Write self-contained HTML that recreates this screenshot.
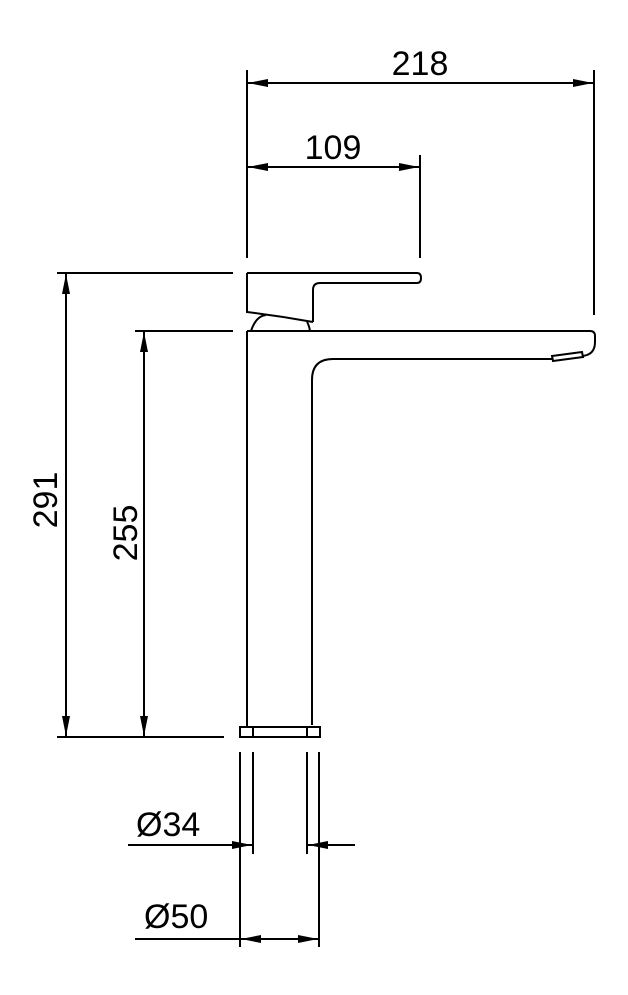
<!DOCTYPE html>
<html><head><meta charset="utf-8"><style>
html,body{margin:0;padding:0;background:#fff;}
svg{display:block;}
text{font-family:"Liberation Sans",sans-serif;font-size:34px;fill:#000;}
</style></head><body>
<svg width="628" height="995" viewBox="0 0 628 995" xmlns="http://www.w3.org/2000/svg">
<defs>
<marker id="a" viewBox="0 0 20 8" refX="20" refY="4" markerWidth="20" markerHeight="8" markerUnits="userSpaceOnUse" orient="auto-start-reverse"><path d="M0,0 L20,4 L0,8 Z" fill="#000"/></marker>
</defs>
<g stroke="#000" stroke-width="2" fill="none">
<!-- top dims -->
<line x1="247" y1="70" x2="247" y2="258"/>
<line x1="594" y1="70" x2="594" y2="315"/>
<line x1="420" y1="155" x2="420" y2="258"/>
<line x1="248" y1="83" x2="593" y2="83" marker-start="url(#a)" marker-end="url(#a)"/>
<line x1="248" y1="167" x2="419" y2="167" marker-start="url(#a)" marker-end="url(#a)"/>
<!-- left dims -->
<line x1="57" y1="273" x2="233" y2="273"/>
<line x1="135" y1="331" x2="233" y2="331"/>
<line x1="57" y1="737" x2="224" y2="737"/>
<line x1="66" y1="274" x2="66" y2="736" marker-start="url(#a)" marker-end="url(#a)"/>
<line x1="144" y1="332" x2="144" y2="736" marker-start="url(#a)" marker-end="url(#a)"/>
<!-- handle -->
<path d="M247,273 H417 Q421,273 421,278 Q421,283 417,283 H320 Q313,283 313,290 V322"/>
<path d="M247,273 V312 Q280,316 313,322"/>
<path d="M251,331 Q256,316 266,315"/>
<path d="M310,331 Q309,325 307,322"/>
<!-- spout/body -->
<path d="M247,331 H590 Q595,331 595,336 V342 Q595,355 582,356"/>
<path d="M312,725 V380 Q312,359 333,359 H552"/>
<path d="M552,356 L582,352 L583,357 L553,361 Z"/>
<line x1="247" y1="331" x2="247" y2="727"/>
<!-- base -->
<rect x="240" y="727" width="80" height="10"/>
<line x1="253" y1="727" x2="253" y2="737"/>
<line x1="307" y1="727" x2="307" y2="737"/>
<!-- lower -->
<line x1="240" y1="752" x2="240" y2="947"/>
<line x1="319" y1="752" x2="319" y2="947"/>
<line x1="253" y1="752" x2="253" y2="854"/>
<line x1="307" y1="752" x2="307" y2="854"/>
<line x1="128" y1="845" x2="252" y2="845" marker-end="url(#a)"/>
<line x1="355" y1="845" x2="308" y2="845" marker-end="url(#a)"/>
<line x1="135" y1="939" x2="240" y2="939"/>
<line x1="241" y1="939" x2="318" y2="939" marker-start="url(#a)" marker-end="url(#a)"/>
</g>
<text x="420" y="75" text-anchor="middle">218</text>
<text x="333" y="159" text-anchor="middle">109</text>
<text x="0" y="0" text-anchor="middle" transform="translate(57,500) rotate(-90)">291</text>
<text x="0" y="0" text-anchor="middle" transform="translate(137,533) rotate(-90)">255</text>
<text x="136" y="836">Ø34</text>
<text x="144" y="928">Ø50</text>
</svg>
</body></html>
